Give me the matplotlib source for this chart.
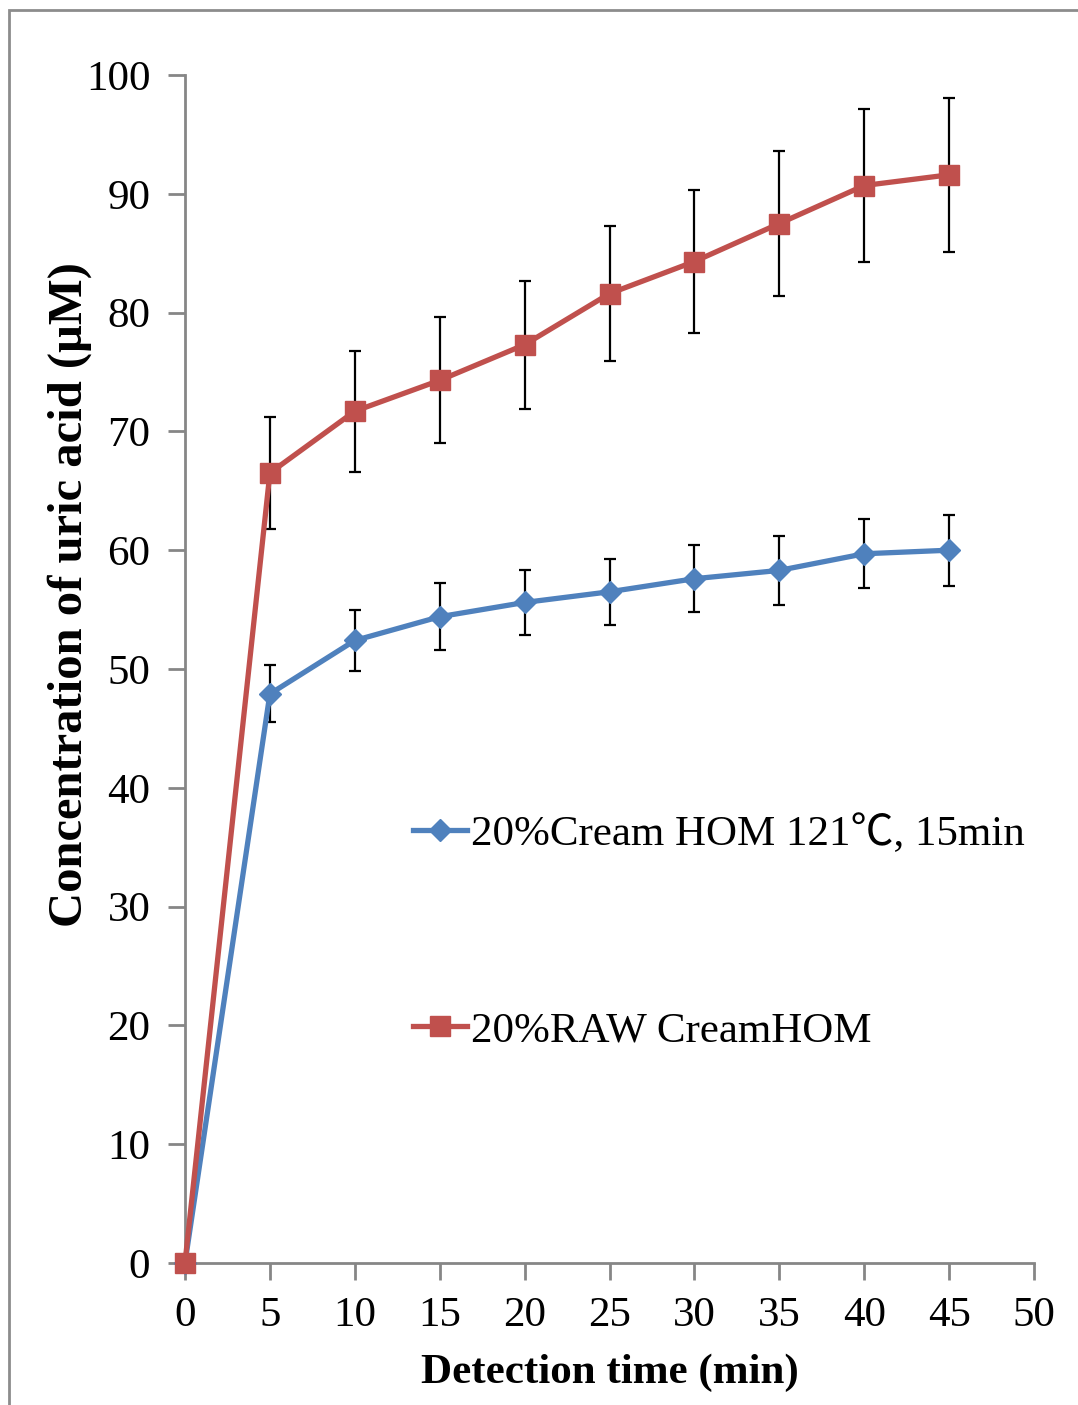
import matplotlib.pyplot as plt
from matplotlib.patches import Rectangle

plt.rcParams.update({
    "font.family": ["Liberation Serif", "Noto Sans CJK SC"],
    "mathtext.fontset": "stix",
})

# parameters
fs0 = 31
fs_lab = 35
lw0 = 3.8
col_blue = "#4F81BD"
col_red = "#C0504D"
col_axis = "#868686"

# data
t = [0, 5, 10, 15, 20, 25, 30, 35, 40, 45]

hom_121 = [0, 47.9, 52.4, 54.4, 55.6, 56.5, 57.6, 58.3, 59.7, 60.0]
hom_121_err = [0, 2.4, 2.6, 2.8, 2.7, 2.8, 2.8, 2.9, 2.9, 3.0]

raw_hom = [0, 66.5, 71.7, 74.3, 77.3, 81.6, 84.3, 87.5, 90.7, 91.6]
raw_hom_err = [0, 4.7, 5.1, 5.3, 5.4, 5.7, 6.0, 6.1, 6.4, 6.5]

labels = ["20%Cream HOM 121\u2103, 15min", "20%RAW CreamHOM"]

fig = plt.figure(figsize=(10.78, 14.05), dpi=100)
ax = fig.add_axes([0.1716, 0.1011, 0.7876, 0.8455])

# outer frame (only top/left visible in the original)
fig.patches.append(Rectangle((9 / 1078, -0.1), 1.2, (1405 - 10) / 1405 + 0.1,
                             transform=fig.transFigure, fill=False,
                             edgecolor="#8c8c8c", lw=2.0, zorder=0))

ax.errorbar(t, hom_121, yerr=hom_121_err, fmt="none", ecolor="black",
            elinewidth=1.6, capsize=4, capthick=1.6, zorder=2)
ax.errorbar(t, raw_hom, yerr=raw_hom_err, fmt="none", ecolor="black",
            elinewidth=1.6, capsize=4, capthick=1.6, zorder=2)

ax.plot(t, hom_121, color=col_blue, marker="D", markersize=11.5, lw=lw0,
        label=labels[0], zorder=3)
ax.plot(t, raw_hom, color=col_red, marker="s", markersize=14, lw=lw0,
        label=labels[1], zorder=4)

ax.set_xlim(0, 50)
ax.set_ylim(0, 100)
ax.set_xticks(range(0, 51, 5))
ax.set_yticks(range(0, 101, 10))
for s in ["top", "right"]:
    ax.spines[s].set_visible(False)
for s in ["left", "bottom"]:
    ax.spines[s].set_color(col_axis)
    ax.spines[s].set_linewidth(2)
ax.tick_params(axis="both", direction="out", length=12, width=2,
               color=col_axis, labelsize=fs0)
ax.tick_params(axis="x", pad=12)
ax.tick_params(axis="y", pad=13)
ax.set_xlabel("Detection time (min)", fontsize=fs0, fontweight="bold")
ax.set_ylabel("Concentration of uric acid (\u03bcM)", fontsize=fs_lab,
              fontweight="bold")
ax.xaxis.set_label_coords(0.5, -0.076)
ax.yaxis.set_label_coords(-0.110, 0.563)

leg = ax.legend(loc="upper left", bbox_to_anchor=(0.248, 0.392), frameon=False,
                fontsize=fs0, handlelength=1.25, handletextpad=0.1,
                labelspacing=3.65, borderaxespad=0)

for line in ax.lines:
    line.set_clip_on(False)

fig.savefig("out.png", dpi=100)
